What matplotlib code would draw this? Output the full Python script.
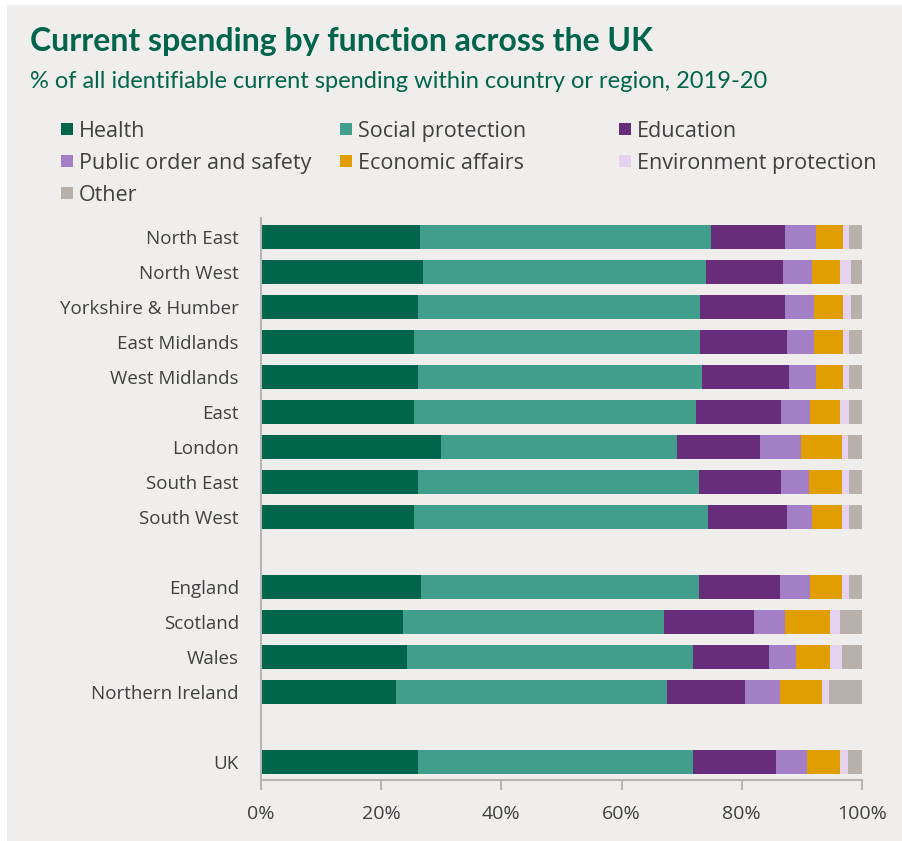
import numpy as np
import matplotlib.pyplot as plt
from matplotlib.patches import Rectangle

# data (% of identifiable current spending, 2019-20)
regions = ['North East', 'North West', 'Yorkshire & Humber', 'East Midlands',
           'West Midlands', 'East', 'London', 'South East', 'South West',
           'England', 'Scotland', 'Wales', 'Northern Ireland', 'UK']
health = [26.4, 27.0, 26.2, 25.5, 26.2, 25.5, 30.0, 26.2, 25.5,
          26.6, 23.7, 24.3, 22.5, 26.2]
social = [48.5, 47.0, 46.8, 47.5, 47.1, 46.9, 39.2, 46.6, 48.8,
          46.2, 43.3, 47.5, 45.1, 45.6]
education = [12.3, 12.9, 14.2, 14.6, 14.6, 14.2, 13.8, 13.8, 13.3,
             13.5, 15.1, 12.7, 13.0, 13.9]
public_order = [5.2, 4.8, 4.8, 4.4, 4.5, 4.8, 6.9, 4.5, 4.1,
                5.1, 5.1, 4.6, 5.7, 5.2]
economic = [4.5, 4.6, 4.9, 4.9, 4.5, 4.9, 6.7, 5.5, 4.9,
            5.2, 7.5, 5.6, 7.0, 5.4]
environment = [0.9, 1.9, 1.3, 1.0, 1.0, 1.6, 1.0, 1.3, 1.3,
               1.3, 1.6, 1.9, 1.2, 1.3]
other = [2.2, 1.8, 1.8, 2.1, 2.1, 2.1, 2.4, 2.1, 2.1,
         2.1, 3.7, 3.4, 5.5, 2.4]

series = [
    ('Health', health, '#00654a'),
    ('Social protection', social, '#419e8a'),
    ('Education', education, '#672d7b'),
    ('Public order and safety', public_order, '#a27fc7'),
    ('Economic affairs', economic, '#e09e00'),
    ('Environment protection', environment, '#e4d2ee'),
    ('Other', other, '#b8b0ab'),
]

# gaps after South West and Northern Ireland
group = [0] * 9 + [1] * 4 + [2]
ypos = np.arange(len(regions)) + np.array(group)

bg = '#efeeec'
green = '#00654a'
grey_text = '#404040'
axis_col = '#b5b5b5'

fig = plt.figure(figsize=(9.03, 8.41), dpi=100, facecolor='white')
fig.patches.append(Rectangle((7 / 903, 0), 1, 1 - 5 / 841,
                             transform=fig.transFigure, facecolor=bg,
                             edgecolor='none', zorder=-10))

ax = fig.add_axes([261 / 903, 1 - 780 / 841, 601 / 903, 562 / 841])
ax.set_facecolor(bg)

left = np.zeros(len(regions))
for name, vals, col in series:
    vals = np.array(vals)
    ax.barh(ypos, vals, left=left, height=0.67, color=col,
            edgecolor='none', label=name)
    left += vals

ax.set_xlim(0, 100)
ax.set_ylim(ypos[-1] + 0.51, -0.54)
ax.set_yticks(ypos)
ax.set_yticklabels(regions)
ax.set_xticks(np.arange(0, 101, 20))
ax.set_xticklabels([f'{v}%' for v in range(0, 101, 20)])

for s in ['top', 'right']:
    ax.spines[s].set_visible(False)
for s in ['left', 'bottom']:
    ax.spines[s].set_color(axis_col)
    ax.spines[s].set_linewidth(1.5)
ax.tick_params(axis='y', length=0, pad=16, labelsize=13.5,
               labelcolor=grey_text, labelfontfamily='Open Sans')
ax.tick_params(axis='x', length=7, width=1.5, color=axis_col, pad=11,
               labelsize=14, labelcolor=grey_text,
               labelfontfamily='Open Sans')

# title and subtitle
fig.text(30 / 903, 1 - 42 / 841, 'Current spending by function across the UK',
         fontsize=23, fontweight='bold', color=green, family='Lato',
         va='center', ha='left')
fig.text(30 / 903, 1 - 81 / 841,
         '% of all identifiable current spending within country or region, 2019-20',
         fontsize=17, color=green, family='Lato', va='center', ha='left')

# legend laid out in three columns, row by row
for i, (name, vals, col) in enumerate(series):
    r, c = divmod(i, 3)
    x0 = (61 + c * 279) / 903
    yc = 1 - (129 + r * 32) / 841
    fig.patches.append(Rectangle((x0, yc - 6 / 841), 12 / 903, 12 / 841,
                                 transform=fig.transFigure, facecolor=col,
                                 edgecolor='none'))
    fig.text(x0 + 18 / 903, yc, name, fontsize=15.5, color=grey_text,
             family='Open Sans', va='center_baseline', ha='left')

fig.savefig('out.png', dpi=100, facecolor=fig.get_facecolor())
